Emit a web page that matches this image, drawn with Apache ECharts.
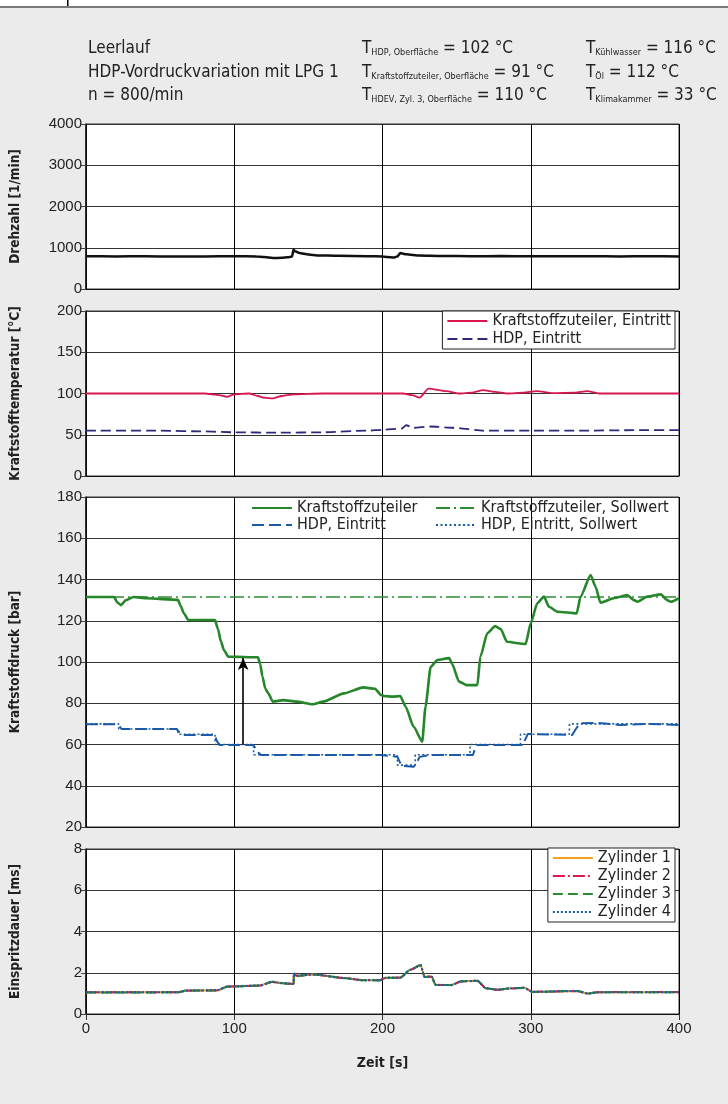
<!DOCTYPE html>
<html><head><meta charset="utf-8">
<script src="https://cdn.jsdelivr.net/npm/echarts@6/dist/echarts.min.js"></script>
<style>html,body{margin:0;padding:0;background:#ebebeb;}#c{width:728px;height:1104px;}</style>
</head><body><div id="c"></div>
<script>
// ---------- data ----------
var xTicks = [0, 100, 200, 300, 400];
// Panel 1: Drehzahl [1/min]
var rpmT = [0,20,40,60,80,100,115,120,126,132,136,139,140,141,144,150,156,170,190,200,203,208,210,212,216,225,240,260,280,300,320,340,360,380,400];
var rpmV = [795,790,792,788,790,792,790,775,752,755,770,785,960,915,870,835,815,805,795,790,775,765,790,870,840,812,800,795,798,795,792,795,790,795,790];
// Panel 2: Kraftstofftemperatur [°C]
var tempKzT = [0,40,80,90,95,100,110,116,120,126,132,140,160,180,200,214,220,225,231,243,252,260,268,276,284,295,304,315,330,338,347,370,400];
var tempKzV = [100,100,100,98,96,99,100,97,95,94,97,99,100,100,100,100,98,95,106,103,100,101,104,102,100,101,103,100.5,101,103,100,100,100];
var tempHdpT = [0,50,80,100,130,160,190,200,213,216,221,232,248,268,300,333,370,400];
var tempHdpV = [55,55,54,53,52.5,53,55,56,57.5,61.5,58.5,60,58.5,55,55,55,55.5,55.5];
// Panel 3: Kraftstoffdruck [bar]
var pKzT = [0,19,21,23.5,27,32,41,62,64,66,69,87,89,91,93,96,116,117.5,119,121,123,126,133,142,153,160,174,187,195,199,201,207,212,215.6,221,226.8,229,232.5,237,245,247,251.6,257,264,266,270.7,276,279.7,284,296.5,300,304.4,308.9,312.3,318,331,333.6,340.4,343.7,347,356,365,369.6,372,378.6,387.6,392,394.4,400];
var pKzV = [131.5,131.5,129,127.6,130,131.5,130.9,130.1,127,123.6,120.4,120.3,116,110,105.8,102.6,102.3,99,93,87,84.8,80.8,81.5,80.8,79.5,80.8,84.8,87.7,87,84,83.5,83.2,83.5,78.3,68.6,61.4,78.3,97.7,101,101.9,99,90.5,88.8,88.8,102.6,113.9,117.4,116,109.8,108.7,118.8,128.5,131.7,126.8,124.4,123.6,131.7,142.2,136.5,128.8,130.9,132.5,130,129.2,131.7,132.8,130,129.2,131];
var pKzSollT = [0, 400];
var pKzSollV = [131.5, 131.5];
var pHdpT = [0,20,23,24,61,63,65,87,88,90,113,115,118,198,210,212,213,221,223,225,232,261,262,264,295,296,298,328,330,333,345,360,380,400];
var pHdpV = [69.8,69.8,68.5,67.5,67.5,66,64.6,64.6,62,59.8,59.8,57,54.9,54.9,54.1,51,49.6,49.2,51,54,54.9,54.9,57,59.8,59.8,62,65.1,64.6,67,70.3,70.5,69.5,70,69.5];
var pHdpSollT = [0,22,22.1,62,62.1,87,87.1,113,113.1,210,210.1,222,222.1,259,259.1,293,293.1,326,326.1,400];
var pHdpSollV = [70,70,67.5,67.5,65,65,60,60,55,55,50,50,55,55,60,60,65,65,70,70];
var arrowT = [106, 106];
var arrowV = [60, 102];
// Panel 4: Einspritzdauer [ms]
var injT = [0,62,67.8,88.4,95.3,117.2,125.5,132.3,139.2,140,140.3,142,153,175,186,198.2,202.3,212,218.8,225.7,228.4,233.1,235.8,246.3,253.1,264.1,269.6,277.8,284.7,295.7,301.2,331.4,338.3,345.1,400];
var inj1V = [1.04,1.06,1.14,1.14,1.33,1.38,1.56,1.5,1.46,1.46,1.98,1.85,1.92,1.74,1.64,1.64,1.76,1.76,2.15,2.37,1.79,1.82,1.41,1.4,1.59,1.61,1.25,1.17,1.24,1.27,1.07,1.12,0.99,1.06,1.06];
var inj2V = [1.05,1.06,1.13,1.15,1.33,1.37,1.55,1.5,1.46,1.46,1.97,1.85,1.91,1.74,1.65,1.64,1.75,1.77,2.14,2.36,1.8,1.81,1.42,1.4,1.58,1.6,1.26,1.17,1.23,1.27,1.08,1.11,1.0,1.06,1.07];
var inj3V = [1.04,1.05,1.14,1.14,1.32,1.38,1.56,1.49,1.45,1.45,1.98,1.84,1.92,1.73,1.64,1.63,1.76,1.76,2.15,2.38,1.79,1.82,1.41,1.41,1.59,1.61,1.25,1.18,1.24,1.26,1.07,1.12,0.99,1.05,1.06];
var inj4V = [1.05,1.06,1.14,1.15,1.33,1.38,1.56,1.5,1.46,1.46,1.98,1.85,1.92,1.74,1.64,1.64,1.76,1.76,2.15,2.37,1.8,1.82,1.41,1.4,1.59,1.61,1.25,1.17,1.24,1.27,1.07,1.12,0.99,1.06,1.06];

var yNames = ['Drehzahl [1/min]', 'Kraftstofftemperatur [°C]', 'Kraftstoffdruck [bar]', 'Einspritzdauer [ms]'];
var yMin = [0, 0, 20, 0], yMax = [4000, 200, 180, 8], yStep = [1000, 50, 20, 2];

// ---------- helpers ----------
function zip(t, v) { return t.map(function (x, i) { return [x, v[i]]; }); }
var NARROW = "'Liberation Sans Narrow','DejaVu Sans Condensed','Arial Narrow',sans-serif";
var REG = "'Liberation Sans',Arial,sans-serif";

var grids = [
  {left: 86, width: 593, top: 124, height: 165},
  {left: 86, width: 593, top: 311, height: 165},
  {left: 86, width: 593, top: 497, height: 330},
  {left: 86, width: 593, top: 849, height: 165}
].map(function (g) {
  g.show = true; g.backgroundColor = '#fff'; g.borderColor = '#333'; g.borderWidth = 1; return g;
});

var xAxes = grids.map(function (g, i) {
  var last = i === 3;
  return {
    type: 'value', gridIndex: i, min: xTicks[0], max: xTicks[xTicks.length - 1], interval: 100,
    axisLine: {show: true, lineStyle: {color: '#111', width: 1}},
    axisTick: {show: last, length: 6, lineStyle: {color: '#333'}},
    axisLabel: {show: last, fontFamily: REG, fontSize: 15, color: '#222', margin: 7},
    splitLine: {show: true, lineStyle: {color: '#000', width: 1}},
    name: last ? 'Zeit [s]' : '', nameLocation: 'middle', nameGap: 42,
    nameTextStyle: {fontFamily: NARROW, fontWeight: 'bold', fontSize: 14, color: '#222'}
  };
});

var yAxes = grids.map(function (g, i) {
  return {
    type: 'value', gridIndex: i, min: yMin[i], max: yMax[i], interval: yStep[i],
    axisLine: {show: true, lineStyle: {color: '#111', width: 1.5}},
    axisTick: {show: true, length: 5, lineStyle: {color: '#444'}},
    axisLabel: {fontFamily: REG, fontSize: 15, color: '#222', margin: 4, formatter: function (v) { return String(v); }},
    splitLine: {show: true, lineStyle: {color: '#333', width: 1}},
    name: yNames[i], nameLocation: 'middle', nameGap: 64,
    nameTextStyle: {fontFamily: NARROW, fontWeight: 'bold', fontSize: 13.5, color: '#222'}
  };
});

function line(name, gi, t, v, color, width, type, extra) {
  var s = {
    name: name, type: 'line', xAxisIndex: gi, yAxisIndex: gi, data: zip(t, v),
    symbol: 'none', smooth: 0.2, smoothMonotone: 'x', animation: false,
    lineStyle: {color: color, width: width, type: type || 'solid'},
    itemStyle: {color: color}
  };
  if (extra) for (var k in extra) s[k] = extra[k];
  return s;
}

var series = [
  line('Drehzahl', 0, rpmT, rpmV, '#111', 2.5, 'solid'),
  line('Kraftstoffzuteiler, Eintritt', 1, tempKzT, tempKzV, '#d8174f', 1.8, 'solid'),
  line('HDP, Eintritt ', 1, tempHdpT, tempHdpV, '#2d2a7c', 1.8, [10, 5]),
  line('Kraftstoffzuteiler, Sollwert', 2, pKzSollT, pKzSollV, '#2e8b34', 1.6, [14, 4, 2, 4], {smooth: false}),
  line('HDP, Eintritt, Sollwert', 2, pHdpSollT, pHdpSollV, '#1a5aa6', 1.6, [2, 2.5], {smooth: false}),
  line('HDP, Eintritt', 2, pHdpT, pHdpV, '#1a5aa6', 2, [12, 5], {smooth: false}),
  line('Kraftstoffzuteiler', 2, pKzT, pKzV, '#26862a', 2.6, 'solid'),
  {
    name: 'arrow', type: 'line', xAxisIndex: 2, yAxisIndex: 2, data: [], symbol: 'none', animation: false,
    markLine: {
      silent: true, symbol: ['none', 'arrow'], symbolSize: [8, 12], label: {show: false},
      lineStyle: {color: '#000', width: 1.6, type: 'solid'},
      data: [[{coord: [arrowT[0], arrowV[0]]}, {coord: [arrowT[1], arrowV[1]]}]]
    }
  },
  line('Zylinder 1', 3, injT, inj1V, '#f2a21d', 2, 'solid'),
  line('Zylinder 2', 3, injT, inj2V, '#dc1a4f', 2, [12, 3, 2, 3]),
  line('Zylinder 3', 3, injT, inj3V, '#2e8b34', 2, [10, 5]),
  line('Zylinder 4', 3, injT, inj4V, '#1a5aa6', 2, [2, 2])
];

var legBase = {
  orient: 'vertical', itemWidth: 40, itemHeight: 14, itemGap: 2, padding: [2, 4, 2, 4],
  backgroundColor: '#fff', borderColor: '#222', borderWidth: 1, selectedMode: false,
  itemStyle: {opacity: 0},
  textStyle: {fontFamily: NARROW, fontSize: 16, lineHeight: 14, color: '#222'}
};
function leg(o) { var r = {}; for (var k in legBase) r[k] = legBase[k]; for (var j in o) r[j] = o[j]; return r; }

var legends = [
  leg({right: 53, top: 311, data: ['Kraftstoffzuteiler, Eintritt', 'HDP, Eintritt ']}),
  leg({left: 247, top: 498, itemGap: 1, data: ['Kraftstoffzuteiler', 'HDP, Eintritt'], borderWidth: 0, backgroundColor: 'transparent'}),
  leg({left: 431, top: 498, itemGap: 1, data: ['Kraftstoffzuteiler, Sollwert', 'HDP, Eintritt, Sollwert'], borderWidth: 0, backgroundColor: 'transparent'}),
  leg({right: 53, top: 848, data: ['Zylinder 1', 'Zylinder 2', 'Zylinder 3', 'Zylinder 4']})
];

// header text
function sub(T, s, rest) { return '{t|' + T + '}{s|' + s + '}{t|' + rest + '}'; }
var rich = {
  t: {fontFamily: NARROW, fontSize: 17, color: '#222', lineHeight: 22, verticalAlign: 'bottom'},
  s: {fontFamily: NARROW, fontSize: 9, color: '#222', lineHeight: 22, verticalAlign: 'bottom'}
};
function hText(x, y, txt) {
  return {type: 'text', left: x, top: y, z: 10, style: {text: txt, rich: rich, fill: '#222', font: '17px ' + NARROW}};
}
var header = [
  hText(88, 40, '{t|Leerlauf}'),
  hText(88, 64, '{t|HDP-Vordruckvariation mit LPG 1}'),
  hText(88, 87, '{t|n = 800/min}'),
  hText(362, 40, sub('T', 'HDP, Oberfläche', ' = 102 °C')),
  hText(362, 64, sub('T', 'Kraftstoffzuteiler, Oberfläche', ' = 91 °C')),
  hText(362, 87, sub('T', 'HDEV, Zyl. 3, Oberfläche', ' = 110 °C')),
  hText(586, 40, sub('T', 'Kühlwasser', ' = 116 °C')),
  hText(586, 64, sub('T', 'Öl', ' = 112 °C')),
  hText(586, 87, sub('T', 'Klimakammer', ' = 33 °C'))
];

var graphics = [
  {type: 'rect', left: 0, top: 0, z: 0, shape: {width: 728, height: 6}, style: {fill: '#fff'}},
  {type: 'rect', left: 0, top: 6, z: 0, shape: {width: 728, height: 2}, style: {fill: '#7a7a7a'}},
  {type: 'rect', left: 67, top: 0, z: 0, shape: {width: 1.5, height: 6}, style: {fill: '#000'}},
  {type: 'rect', left: 250, top: 498, z: -1, shape: {width: 424, height: 33}, style: {fill: '#fff', stroke: '#222', lineWidth: 1}}
].concat(header);

var chart = echarts.init(document.getElementById('c'), null, {renderer: 'canvas'});
chart.setOption({
  backgroundColor: '#ebebeb',
  animation: false,
  grid: grids, xAxis: xAxes, yAxis: yAxes, series: series, legend: legends,
  graphic: {elements: graphics}
});
</script></body></html>
